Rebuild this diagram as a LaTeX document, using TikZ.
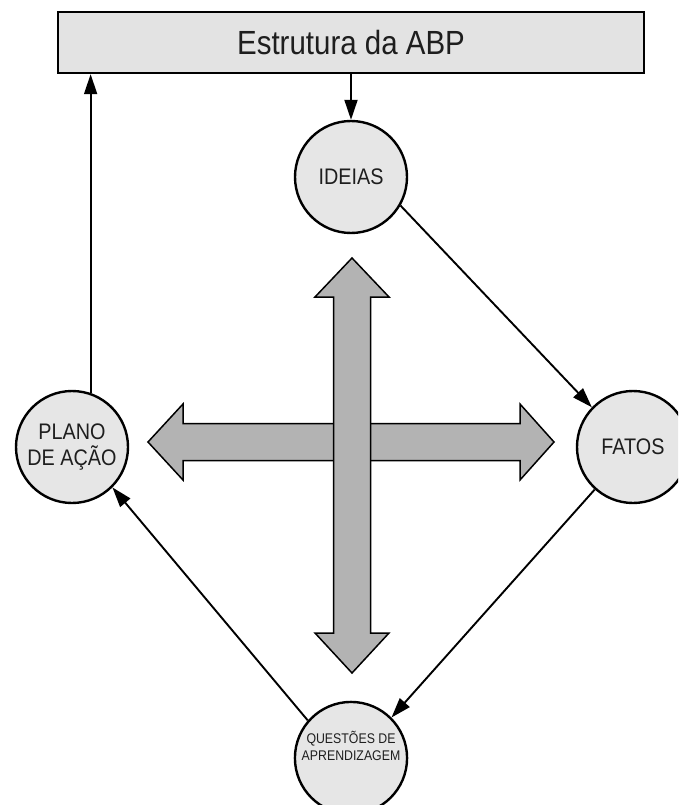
\documentclass[tikz,border=0pt]{standalone}
\usepackage{fontspec}
\setmainfont{Liberation Sans}
\newfontfamily\nf[FakeStretch=0.88]{Liberation Sans}
\usetikzlibrary{arrows.meta}
\definecolor{boxfill}{HTML}{E3E3E3}
\definecolor{circfill}{HTML}{E6E6E6}
\definecolor{crossfill}{HTML}{B3B3B3}
\definecolor{txt}{HTML}{1E1E1E}
\tikzset{
  circnode/.style={circle, draw=black, line width=2.4pt, fill=circfill, minimum size=112pt, inner sep=0pt, align=center, text=txt},
  bigtxt/.style={font=\nf\fontsize{22.5}{26}\selectfont},
  smalltxt/.style={font=\nf\fontsize{14}{17}\selectfont},
  topbox/.style={draw=black, line width=2.4pt, fill=boxfill, minimum width=586pt, minimum height=61pt, inner sep=0pt, text=txt, font=\nf\fontsize{33.5}{38}\selectfont},
  conn/.style={line width=1.9pt, -{Triangle[length=20pt,width=13pt]}},
  bigarrow/.style={draw=black, line width=1.5pt, fill=crossfill, line join=miter}
}
\begin{document}
\begin{tikzpicture}[x=1pt,y=-1pt]
\useasboundingbox (0,0) rectangle (678,805);
\clip (0,0) rectangle (678,805);
% top box
\node[topbox] (box) at (351,42.5) {Estrutura da ABP};
% circles
\node[circnode, bigtxt] (ideias) at (351,177) {IDEIAS};
\node[circnode, bigtxt] (fatos) at (633,447) {FATOS};
\node[circnode, bigtxt] (plano) at (72,447) {PLANO\\DE AÇÃO};
\node[circnode, smalltxt] (quest) at (351,758) {QUESTÕES DE\\APRENDIZAGEM\\[8pt]};
% cross arrows: horizontal first, vertical on top
\draw[bigarrow] (148,442) -- (183,404) -- (183,423.5) -- (520,423.5) -- (520,404) -- (554,442)
  -- (520,480) -- (520,460.5) -- (183,460.5) -- (183,480) -- cycle;
\draw[bigarrow] (352,258) -- (389,297) -- (370.5,297) -- (370.5,633) -- (389,633) -- (352,673)
  -- (315,633) -- (333.5,633) -- (333.5,297) -- (315,297) -- cycle;
% connectors
\draw[conn] (box) -- (ideias);
\draw[conn] (ideias.-30) -- (fatos.136);
\draw[conn] (fatos.-132) -- (quest.45);
\draw[conn] (quest.139) -- (plano.-45);
\draw[conn] (plano.71) -- (plano.71 |- box.south);
\end{tikzpicture}
\end{document}
